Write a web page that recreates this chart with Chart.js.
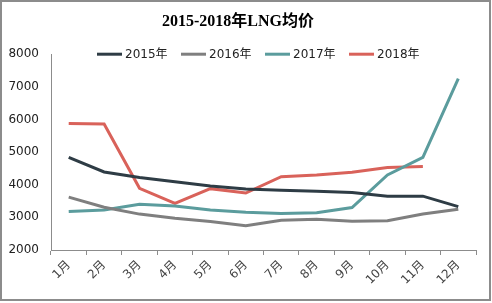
<!DOCTYPE html>
<html>
<head>
<meta charset="utf-8">
<script src="https://cdn.jsdelivr.net/npm/chart.js@4.4.0/dist/chart.umd.min.js"></script>
<style>
  html, body { margin: 0; padding: 0; background: #fff; }
  #wrap { width: 492px; height: 303px; position: relative; }
</style>
</head>
<body>
<div id="wrap"><canvas id="lngChart"></canvas></div>
<script>
// LNG average price by month, 2015-2018
const months = ['1月', '2月', '3月', '4月', '5月', '6月', '7月', '8月', '9月', '10月', '11月', '12月'];
const price2015 = [4840, 4390, 4225, 4090, 3960, 3870, 3830, 3800, 3765, 3650, 3650, 3330];
const price2016 = [3620, 3310, 3100, 2970, 2870, 2745, 2910, 2940, 2880, 2900, 3100, 3250];
const price2017 = [3180, 3225, 3400, 3350, 3225, 3160, 3120, 3140, 3300, 4300, 4840, 7250];
const price2018 = [5880, 5860, 3890, 3430, 3880, 3745, 4245, 4300, 4380, 4530, 4560, null];
const yTicks = [2000, 3000, 4000, 5000, 6000, 7000, 8000];

const seriesColors = ['#2e3c45', '#7f7f7f', '#5b9c9d', '#d9625a'];
const seriesNames = ['2015年', '2016年', '2017年', '2018年'];

// white background + thin grey frame
const frame = {
    id: 'frame',
    beforeDraw(chart) {
        const c = chart.ctx;
        c.save();
        c.fillStyle = '#fff';
        c.fillRect(0, 0, chart.width, chart.height);
        c.strokeStyle = '#8c8c8c';
        c.lineWidth = 2;
        c.strokeRect(1, 1, chart.width - 3, chart.height - 4);
        c.restore();
    }
};

// legend drawn inside the plot area, like the original
const innerLegend = {
    id: 'innerLegend',
    afterDraw(chart) {
        const c = chart.ctx;
        const y = chart.chartArea.top;
        c.save();
        c.font = '12px "DejaVu Sans", "Noto Sans CJK SC", sans-serif';
        c.textBaseline = 'middle';
        chart.data.datasets.forEach((ds, i) => {
            const x = 97 + i * 84;
            c.strokeStyle = ds.borderColor;
            c.lineWidth = 3;
            c.beginPath();
            c.moveTo(x, y);
            c.lineTo(x + 25, y);
            c.stroke();
            c.fillStyle = '#222';
            c.fillText(ds.label, x + 28, y + 1);
        });
        c.restore();
    }
};

const datasets = [price2015, price2016, price2017, price2018].map((vals, i) => ({
    label: seriesNames[i],
    data: vals,
    borderColor: seriesColors[i],
    backgroundColor: seriesColors[i],
    borderWidth: 3,
    pointRadius: 0,
    tension: 0,
    spanGaps: false
}));

new Chart(document.getElementById('lngChart'), {
    type: 'line',
    data: { labels: months, datasets: datasets },
    options: {
        responsive: true,
        maintainAspectRatio: false,
        animation: false,
        layout: { padding: { left: 0, right: 16, top: 0, bottom: 0 } },
        plugins: {
            legend: { display: false },
            tooltip: { enabled: false },
            title: {
                display: true,
                text: '2015-2018年LNG均价',
                color: '#000',
                font: { family: '"Liberation Serif", "Noto Sans CJK SC", serif', size: 16, weight: 'bold' },
                padding: { top: 12, bottom: 23 }
            }
        },
        scales: {
            x: {
                offset: true,
                grid: {
                    offset: true,
                    drawOnChartArea: false,
                    drawTicks: true,
                    tickLength: 5,
                    color: '#8c8c8c'
                },
                border: { color: '#8c8c8c', width: 1 },
                ticks: {
                    color: '#444',
                    font: { family: '"DejaVu Sans", "Noto Sans CJK SC", sans-serif', size: 12 },
                    maxRotation: 45,
                    minRotation: 45,
                    padding: 3
                },
                afterFit(scale) { scale.height = 53; }
            },
            y: {
                min: 2000,
                max: 8000,
                afterBuildTicks(scale) { scale.ticks = yTicks.map(v => ({ value: v })); },
                grid: { display: false, drawTicks: false },
                border: { color: '#8c8c8c', width: 1 },
                ticks: {
                    color: '#222',
                    font: { family: '"DejaVu Sans", sans-serif', size: 12 },
                    padding: 12,
                    callback: v => String(v)
                },
                afterFit(scale) { scale.width = 51; }
            }
        }
    },
    plugins: [frame, innerLegend]
});
</script>
</body>
</html>
